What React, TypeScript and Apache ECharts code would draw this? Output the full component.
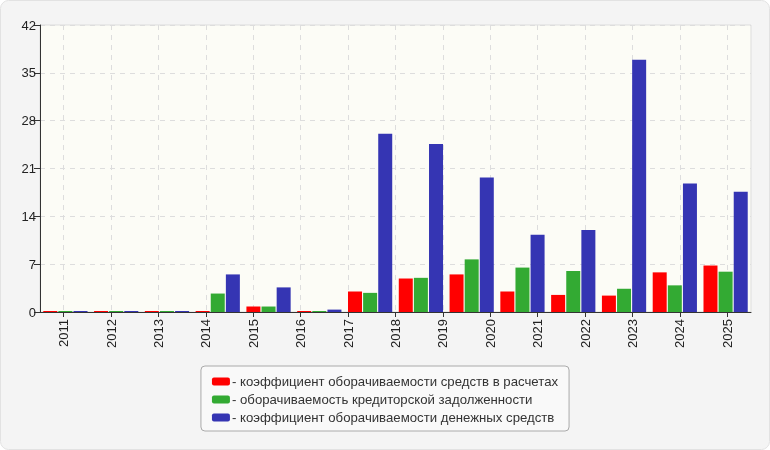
import React, { useEffect, useRef } from "react";
import * as echarts from "echarts";

const years = ["2011", "2012", "2013", "2014", "2015", "2016", "2017", "2018", "2019", "2020", "2021", "2022", "2023", "2024", "2025"];
const groups = ["1", "2", "3", "4", "5", "6", "7", "8", "9", "10", "11", "12", "13", "14"];
const seriesNames = [
  "коэффициент оборачиваемости средств в расчетах",
  "оборачиваемость кредиторской задолженности",
  "коэффициент оборачиваемости денежных средств",
];
const redValues = [0.15, 0.15, 0.15, 0.15, 0.8, 0.15, 3.0, 4.9, 5.5, 3.0, 2.5, 2.4, 5.8, 6.8];
const greenValues = [0.15, 0.15, 0.15, 2.7, 0.8, 0.15, 2.8, 5.0, 7.7, 6.5, 6.0, 3.4, 3.9, 5.9];
const blueValues = [0.15, 0.15, 0.15, 5.5, 3.6, 0.35, 26.1, 24.6, 19.7, 11.3, 12.0, 36.9, 18.8, 17.6];
const colors = ["#ff0000", "#33aa33", "#3535b3"];

export default function App() {
  const ref = useRef<HTMLDivElement>(null);
  useEffect(() => {
    if (!ref.current) return;
    const chart = echarts.init(ref.current, undefined, { renderer: "svg" });
    const labelAxisData: string[] = [""];
    years.forEach((y) => {
      labelAxisData.push(y);
      labelAxisData.push("");
    });
    const odd = (i: number) => i % 2 === 1;
    const font = "Arial, 'Liberation Sans', sans-serif";
    const values = [redValues, greenValues, blueValues];
    chart.setOption({
      animation: false,
      backgroundColor: "transparent",
      textStyle: { fontFamily: font },
      graphic: [
        {
          type: "rect",
          z: -10,
          shape: { x: 0.5, y: 0.5, width: 769, height: 449, r: 8 },
          style: { fill: "#f4f4f4", stroke: "#e2e2e2", lineWidth: 1 },
        },
      ],
      grid: {
        left: 40,
        right: 19,
        top: 25,
        bottom: 138,
        show: true,
        backgroundColor: "#fcfcf6",
        borderColor: "#dddddd",
        borderWidth: 1,
      },
      legend: {
        orient: "vertical",
        left: "center",
        top: 366,
        padding: [9, 11, 7, 11],
        itemGap: 5,
        itemWidth: 18,
        itemHeight: 8,
        backgroundColor: "#f9f9f9",
        borderColor: "#aaaaaa",
        borderWidth: 1,
        borderRadius: 4,
        icon: "roundRect",
        formatter: (name: string) => "- " + name,
        textStyle: { fontSize: 13.2, color: "#333", fontFamily: font, padding: [0, 0, 0, -3] },
        data: seriesNames,
      },
      xAxis: [
        {
          type: "category",
          data: groups,
          show: false,
        },
        {
          type: "category",
          data: labelAxisData,
          position: "bottom",
          boundaryGap: false,
          axisLine: { show: true, lineStyle: { color: "#333", width: 1 } },
          axisTick: { show: true, interval: odd, length: 5, lineStyle: { color: "#333" } },
          axisLabel: { interval: odd, rotate: 90, fontSize: 13, color: "#222", margin: 7, fontFamily: font },
          splitLine: { show: true, interval: odd, lineStyle: { color: "#dddddd", type: [5, 5] } },
        },
      ],
      yAxis: {
        type: "value",
        min: 0,
        max: 42,
        interval: 7,
        axisLine: { show: true, lineStyle: { color: "#333", width: 1 } },
        axisTick: { show: true, length: 6, lineStyle: { color: "#333" } },
        axisLabel: { fontSize: 13, color: "#222", margin: 4, fontFamily: font },
        splitLine: { show: true, lineStyle: { color: "#dddddd", type: [5, 5] } },
      },
      series: values.map((v, i) => ({
        type: "bar",
        name: seriesNames[i],
        xAxisIndex: 0,
        data: v,
        barWidth: 14,
        barGap: "8%",
        itemStyle: { color: colors[i] },
      })),
    });
    return () => chart.dispose();
  }, []);
  return <div ref={ref} style={{ position: "fixed", left: 0, top: 0, width: 770, height: 450 }} />;
}
